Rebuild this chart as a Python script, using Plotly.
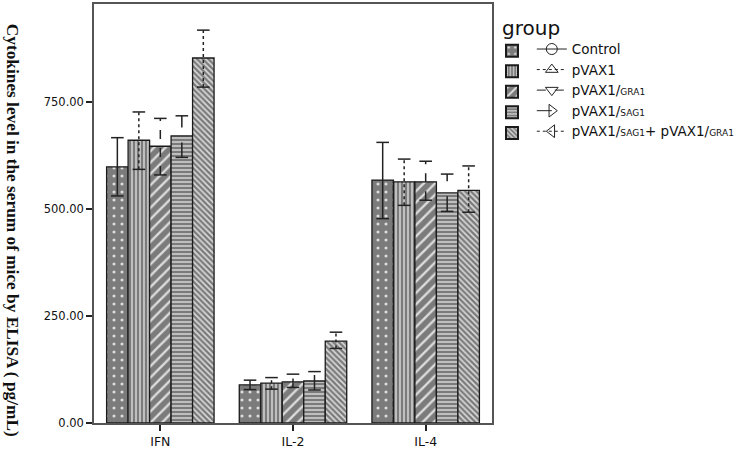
import plotly.graph_objects as go

categories = ["IFN", "IL-2", "IL-4"]
legend_names = [
    "Control",
    "pVAX1",
    "pVAX1/<span style='font-size:9px'>GRA1</span>",
    "pVAX1/<span style='font-size:9px'>SAG1</span>",
    "pVAX1/<span style='font-size:9px'>SAG1</span>+ pVAX1/<span style='font-size:9px'>GRA1</span>",
]
# values per group: [IFN, IL-2, IL-4]
control = [598, 89, 567]
pvax1 = [660, 93, 563]
gra1 = [646, 96, 563]
sag1 = [670, 98, 537]
combo = [852, 191, 543]

control_up = [68, 11, 88]
pvax1_up = [66, 13, 53]
gra1_up = [65, 18, 48]
sag1_up = [47, 22, 44]
combo_up = [65, 21, 57]

control_dn = [68, 11, 90]
pvax1_dn = [68, 14, 55]
gra1_dn = [67, 13, 43]
sag1_dn = [50, 21, 43]
combo_dn = [68, 17, 51]

y_ticks = [0, 250, 500, 750]

values = [control, pvax1, gra1, sag1, combo]
ups = [control_up, pvax1_up, gra1_up, sag1_up, combo_up]
dns = [control_dn, pvax1_dn, gra1_dn, sag1_dn, combo_dn]

patterns = [
    dict(shape=".", size=8, solidity=0.12),
    dict(shape="|", size=4, solidity=0.35),
    dict(shape="/", size=8, solidity=0.3),
    dict(shape="-", size=4, solidity=0.35),
    dict(shape="\\", size=4, solidity=0.4),
]
dashes = ["solid", "dot", "dash", "longdash", "dot"]
symbols = ["circle-open", "triangle-up-open", "triangle-down-open",
           "triangle-right-open", "triangle-left-open"]
GAP = 0.19
DARK = "#222222"

fig = go.Figure()
for i in range(5):
    p = patterns[i]
    fig.add_trace(go.Bar(
        x=categories, y=values[i], name="", legend="legend", offsetgroup=str(i),
        marker=dict(color="#7b7b7b",
                    line=dict(color="#1a1a1a", width=1.3),
                    pattern=dict(shape=p["shape"], size=p["size"], solidity=p["solidity"],
                                 fgcolor="#dcdcdc", bgcolor="#7b7b7b", fillmode="replace")),
    ))

# error bars drawn as grouped scatter segments so they can carry dash styles
for i in range(5):
    xs, ys = [], []
    for c, v, u, d in zip(categories, values[i], ups[i], dns[i]):
        xs += [c, c, None]
        ys += [v - d, v + u, None]
    fig.add_trace(go.Scatter(
        x=xs, y=ys, mode="lines+markers", offsetgroup=str(i), showlegend=False,
        line=dict(color=DARK, width=1.5, dash=dashes[i]),
        marker=dict(symbol="line-ew", size=9, color=DARK, line=dict(width=1.5, color=DARK)),
        hoverinfo="skip",
    ))

# legend-only entries with line + marker keys
for i in range(5):
    fig.add_trace(go.Scatter(
        x=[None], y=[None], mode="lines+markers", name=legend_names[i], legend="legend2",
        offsetgroup=str(i),
        line=dict(color=DARK, width=1, dash=dashes[i]),
        marker=dict(symbol=symbols[i], size=11, color=DARK, line=dict(width=1, color=DARK)),
    ))

fig.add_annotation(
    text="<b>Cytokines level in the serum of mice by ELISA ( pg/mL)</b>",
    xref="paper", yref="paper", x=-0.205, y=0.46, xanchor="center", yanchor="middle",
    textangle=90, showarrow=False,
    font=dict(family="Liberation Serif", size=17.3, color="#111111"),
)

fig.update_layout(
    width=742, height=451,
    margin=dict(l=94, r=250, t=2, b=25),
    paper_bgcolor="white", plot_bgcolor="white",
    barmode="group", bargap=GAP, bargroupgap=0,
    scattermode="group", scattergap=GAP,
    showlegend=True,
    legend=dict(
        x=1.0, y=0.987, xanchor="left", yanchor="top",
        title=dict(text="&#8201;&#8201;group", font=dict(family="DejaVu Sans", size=20, color="#111111")),
        font=dict(family="DejaVu Sans", size=13.5, color="#111111"),
        tracegroupgap=0, itemsizing="constant", bgcolor="rgba(0,0,0,0)",
    ),
    legend2=dict(
        x=1.1, y=0.929, xanchor="left", yanchor="top",
        font=dict(family="DejaVu Sans", size=13.5, color="#111111"),
        tracegroupgap=0, bgcolor="rgba(0,0,0,0)",
    ),
    font=dict(family="DejaVu Sans", size=12, color="#111111"),
    xaxis=dict(
        range=[-0.5, 2.5], showline=True, linecolor="#555555", linewidth=1.5, mirror=True,
        ticks="outside", ticklen=6, tickwidth=2, tickcolor="#222222",
        tickfont=dict(family="DejaVu Sans", size=12.5, color="#111111"),
        showgrid=False,
    ),
    yaxis=dict(
        range=[0, 978], showline=True, linecolor="#555555", linewidth=1.5, mirror=True,
        tickvals=y_ticks, tickformat=".2f",
        ticks="outside", ticklen=6, tickwidth=2, tickcolor="#222222",
        tickfont=dict(family="DejaVu Sans", size=11.5, color="#111111"),
        showgrid=False, zeroline=False,
    ),
)

fig.write_html("out.html", post_script="document.body.style.margin='0';",
               config={"displayModeBar": False})
